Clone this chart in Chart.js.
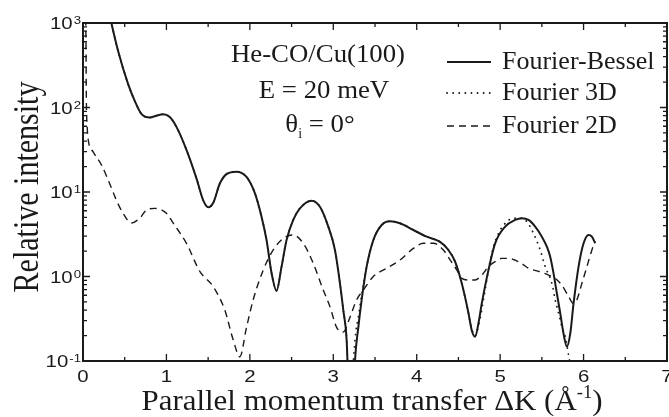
<!DOCTYPE html>
<html>
<head>
<meta charset="utf-8">
<script src="https://cdn.jsdelivr.net/npm/chart.js@4.4.1/dist/chart.umd.min.js"></script>
<style>
  body { margin: 0; background: #fff; }
  canvas { display: block; }
</style>
</head>
<body>
<canvas id="chart" width="669" height="417"></canvas>
<script>
// Fourier-Bessel (solid)
var fbK = [0.20, 0.34, 0.42, 0.54, 0.62, 0.70, 0.80, 0.88, 0.96, 1.04, 1.12, 1.24, 1.36, 1.44, 1.50, 1.56, 1.64, 1.72, 1.84, 1.96, 2.06, 2.14, 2.20, 2.26, 2.32, 2.38, 2.44, 2.52, 2.60, 2.74, 2.84, 2.94, 3.02, 3.08, 3.12, 3.16, 3.17, 3.21, 3.26, 3.30, 3.34, 3.40, 3.48, 3.58, 3.68, 3.80, 3.96, 4.12, 4.28, 4.38, 4.46, 4.54, 4.62, 4.66, 4.70, 4.74, 4.78, 4.86, 4.94, 5.06, 5.18, 5.26, 5.34, 5.42, 5.50, 5.56, 5.60, 5.64, 5.68, 5.72, 5.76, 5.80, 5.84, 5.88, 5.94, 6.00, 6.06, 6.10, 6.14];
var fbI = [4000, 1000, 470, 190, 120, 84, 76, 80, 83, 77, 59, 31.6, 14.5, 8.0, 6.6, 7.4, 12.6, 16.3, 17.4, 15.1, 9.7, 5.1, 2.7, 1.1, 0.68, 1.31, 2.7, 4.67, 6.4, 7.9, 6.7, 3.9, 2.06, 0.83, 0.40, 0.178, 0.1, 0.005, 0.1, 0.25, 0.53, 1.31, 2.7, 4.07, 4.5, 4.26, 3.55, 2.96, 2.57, 2.06, 1.5, 0.83, 0.37, 0.23, 0.194, 0.28, 0.48, 1.19, 2.47, 3.89, 4.67, 4.89, 4.67, 3.89, 2.96, 2.25, 1.71, 1.09, 0.63, 0.37, 0.21, 0.148, 0.21, 0.48, 1.31, 2.47, 3.1, 2.96, 2.47];

// Fourier 3D (dotted)
var f3K = [0.20, 0.34, 0.42, 0.54, 0.62, 0.70, 0.80, 0.88, 0.96, 1.04, 1.12, 1.24, 1.36, 1.44, 1.50, 1.56, 1.64, 1.72, 1.84, 1.96, 2.06, 2.14, 2.20, 2.26, 2.32, 2.38, 2.44, 2.52, 2.60, 2.74, 2.84, 2.94, 3.02, 3.08, 3.12, 3.16, 3.17, 3.20, 3.24, 3.27, 3.30, 3.34, 3.40, 3.48, 3.58, 3.68, 3.80, 3.96, 4.12, 4.28, 4.38, 4.46, 4.54, 4.62, 4.66, 4.70, 4.72, 4.76, 4.80, 4.84, 4.87, 4.92, 4.98, 5.06, 5.16, 5.26, 5.32, 5.40, 5.48, 5.54, 5.62, 5.66, 5.70, 5.74, 5.78, 5.82, 5.84];
var f3I = [4000, 1000, 470, 190, 120, 84, 76, 80, 83, 77, 59, 31.6, 14.5, 8.0, 6.6, 7.4, 12.6, 16.3, 17.4, 15.1, 9.7, 5.1, 2.7, 1.1, 0.68, 1.31, 2.7, 4.67, 6.4, 7.9, 6.7, 3.9, 2.06, 0.83, 0.40, 0.178, 0.1, 0.03, 0.1, 0.22, 0.33, 0.6, 1.31, 2.7, 4.07, 4.5, 4.26, 3.55, 2.96, 2.57, 2.06, 1.5, 0.83, 0.37, 0.24, 0.2, 0.22, 0.32, 0.53, 0.91, 1.37, 2.25, 3.24, 4.26, 4.89, 4.89, 4.46, 3.24, 2.06, 1.31, 0.83, 0.53, 0.37, 0.255, 0.194, 0.118, 0.09];

// Fourier 2D (dashed)
var f2K = [0.030, 0.036, 0.040, 0.050, 0.065, 0.12, 0.22, 0.34, 0.40, 0.48, 0.58, 0.68, 0.76, 0.86, 1.00, 1.08, 1.24, 1.40, 1.56, 1.70, 1.80, 1.88, 1.96, 2.04, 2.16, 2.28, 2.40, 2.52, 2.64, 2.76, 2.88, 2.96, 3.04, 3.12, 3.20, 3.28, 3.36, 3.48, 3.64, 3.80, 3.96, 4.08, 4.20, 4.32, 4.40, 4.48, 4.54, 4.62, 4.70, 4.78, 4.86, 4.94, 5.02, 5.10, 5.18, 5.26, 5.34, 5.46, 5.58, 5.66, 5.74, 5.82, 5.88, 5.92, 5.98, 6.04, 6.10, 6.14];
var f2I = [3000, 500, 130, 60, 40, 30, 21, 11.2, 8.0, 5.6, 4.3, 4.9, 6.1, 6.4, 5.6, 4.3, 2.47, 1.15, 0.76, 0.40, 0.178, 0.112, 0.25, 0.53, 1.19, 2.06, 2.83, 3.1, 2.47, 1.43, 0.69, 0.44, 0.25, 0.22, 0.33, 0.53, 0.69, 1.0, 1.25, 1.57, 2.15, 2.47, 2.47, 2.06, 1.57, 1.2, 0.95, 0.91, 0.91, 1.04, 1.31, 1.5, 1.64, 1.64, 1.56, 1.42, 1.25, 1.15, 1.04, 0.95, 0.79, 0.58, 0.48, 0.53, 0.83, 1.31, 2.06, 2.6];

var xTicks = ["0", "1", "2", "3", "4", "5", "6", "7"];
var yTickVals = [0.1, 1, 10, 100, 1000];
var yTickExp = ["-1", "0", "1", "2", "3"];
var seriesNames = ["Fourier-Bessel", "Fourier 3D", "Fourier 2D"];

function pts(ks, vs) {
  return ks.map(function (k, i) { return { x: k, y: vs[i] }; });
}

var INK = "#1a1a1a";
var SERIF = "'Liberation Serif', 'DejaVu Serif', serif";
var SANS = "'Liberation Sans', Arial, sans-serif";

// text with a horizontal stretch, the figure's glyphs are a bit wide
function say(c, s, x, y, font, align, sx) {
  c.save();
  c.font = font;
  c.textAlign = align || "left";
  c.translate(x, y);
  c.scale(sx || 1, 1);
  c.fillText(s, 0, 0);
  c.restore();
}
function wid(c, s, font, sx) {
  c.font = font;
  return c.measureText(s).width * (sx || 1);
}

// axis box, inner ticks, labels, legend and the note
var framePlugin = {
  id: "frame",
  afterDraw: function (chart) {
    var c = chart.ctx;
    var a = chart.chartArea;
    var xs = chart.scales.x, ys = chart.scales.y;
    c.save();
    c.strokeStyle = INK;
    c.fillStyle = INK;

    // ticks
    c.lineWidth = 1.3;
    c.beginPath();
    for (var t = 0; t <= 14; t++) {
      var px = xs.getPixelForValue(t / 2);
      var len = t % 2 === 0 ? 7 : 4;
      c.moveTo(px, a.bottom); c.lineTo(px, a.bottom - len);
      c.moveTo(px, a.top); c.lineTo(px, a.top + len);
    }
    for (var d = -1; d < 3; d++) {
      for (var m = 1; m <= 10; m++) {
        var v = m * Math.pow(10, d);
        var py = ys.getPixelForValue(v);
        var l = (m === 1 || m === 10) ? 7 : 4;
        c.moveTo(a.left, py); c.lineTo(a.left + l, py);
        c.moveTo(a.right, py); c.lineTo(a.right - l, py);
      }
    }
    c.stroke();

    // box
    c.lineWidth = 2;
    c.strokeRect(a.left, a.top, a.right - a.left, a.bottom - a.top);

    // x tick labels
    c.textBaseline = "alphabetic";
    xTicks.forEach(function (s, i) {
      say(c, s, xs.getPixelForValue(i), a.bottom + 21, "17px " + SANS, "center", 1.2);
    });

    // y tick labels 10^n
    yTickVals.forEach(function (v, i) {
      var py = ys.getPixelForValue(v);
      var ew = wid(c, yTickExp[i], "11px " + SANS, 1.2);
      say(c, yTickExp[i], a.left - 2 - ew, py + 1, "11px " + SANS, "left", 1.2);
      say(c, "10", a.left - 3 - ew, py + 6, "17px " + SANS, "right", 1.2);
    });

    // x title
    var cx = 372, by = 410, big = "30px " + SERIF, small = "18px " + SERIF;
    var main = "Parallel momentum transfer \u0394K (\u00c5", sup = "-1", tail = ")";
    var w1 = wid(c, main, big, 1.03), w2 = wid(c, sup, small, 1.03), w3 = wid(c, tail, big, 1.03);
    var x0 = cx - (w1 + w2 + w3) / 2;
    say(c, main, x0, by, big, "left", 1.03);
    say(c, sup, x0 + w1, by - 12, small, "left", 1.03);
    say(c, tail, x0 + w1 + w2, by, big, "left", 1.03);

    // y title
    c.save();
    c.translate(38, 187);
    c.rotate(-Math.PI / 2);
    c.scale(1, 1.2);
    c.font = "30px " + SERIF;
    c.textAlign = "center";
    c.fillText("Relative intensity", 0, 0);
    c.restore();

    // note
    var nf = "26px " + SERIF;
    say(c, "He-CO/Cu(100)", 318, 62, nf, "center", 1.03);
    say(c, "E = 20 meV", 324, 98, nf, "center", 1.03);
    var th = "\u03b8", rest = " = 0\u00b0";
    var wt = wid(c, th, nf, 1.03), wr = wid(c, rest, nf, 1.03), wi = wid(c, "i", "14px " + SERIF, 1);
    var tx = 320 - (wt + wi + wr) / 2;
    say(c, th, tx, 132, nf, "left", 1.03);
    say(c, "i", tx + wt, 138, "14px " + SERIF, "left", 1);
    say(c, rest, tx + wt + wi, 132, nf, "left", 1.03);

    // legend
    var rows = [62, 93, 126];
    chart.data.datasets.forEach(function (ds, i) {
      c.save();
      c.lineWidth = ds.borderWidth;
      c.setLineDash(ds.borderDash || []);
      c.lineCap = ds.borderCapStyle || "butt";
      c.beginPath();
      c.moveTo(447, rows[i]);
      c.lineTo(491, rows[i]);
      c.stroke();
      c.restore();
      say(c, seriesNames[i], 502, rows[i] + 7, "26px " + SERIF, "left", 1);
    });
    c.restore();
  }
};

new Chart(document.getElementById("chart"), {
  type: "line",
  data: {
    datasets: [
      {
        label: seriesNames[0],
        data: pts(fbK, fbI),
        borderColor: INK,
        borderWidth: 2,
        cubicInterpolationMode: "monotone",
        pointRadius: 0,
        fill: false,
      },
      {
        label: seriesNames[1],
        data: pts(f3K, f3I),
        borderColor: INK,
        borderWidth: 1.8,
        borderDash: [0.1, 6],
        borderCapStyle: "round",
        cubicInterpolationMode: "monotone",
        pointRadius: 0,
        fill: false,
      },
      {
        label: seriesNames[2],
        data: pts(f2K, f2I),
        borderColor: INK,
        borderWidth: 1.4,
        borderDash: [7, 5],
        cubicInterpolationMode: "monotone",
        pointRadius: 0,
        fill: false,
      },
    ],
  },
  options: {
    responsive: false,
    animation: false,
    layout: { padding: { left: 83, top: 23, right: 2, bottom: 56 } },
    plugins: { legend: { display: false }, tooltip: { enabled: false } },
    scales: {
      x: { type: "linear", min: 0, max: 7, display: false },
      y: { type: "logarithmic", min: 0.1, max: 1000, display: false },
    },
  },
  plugins: [framePlugin],
});
</script>
</body>
</html>
